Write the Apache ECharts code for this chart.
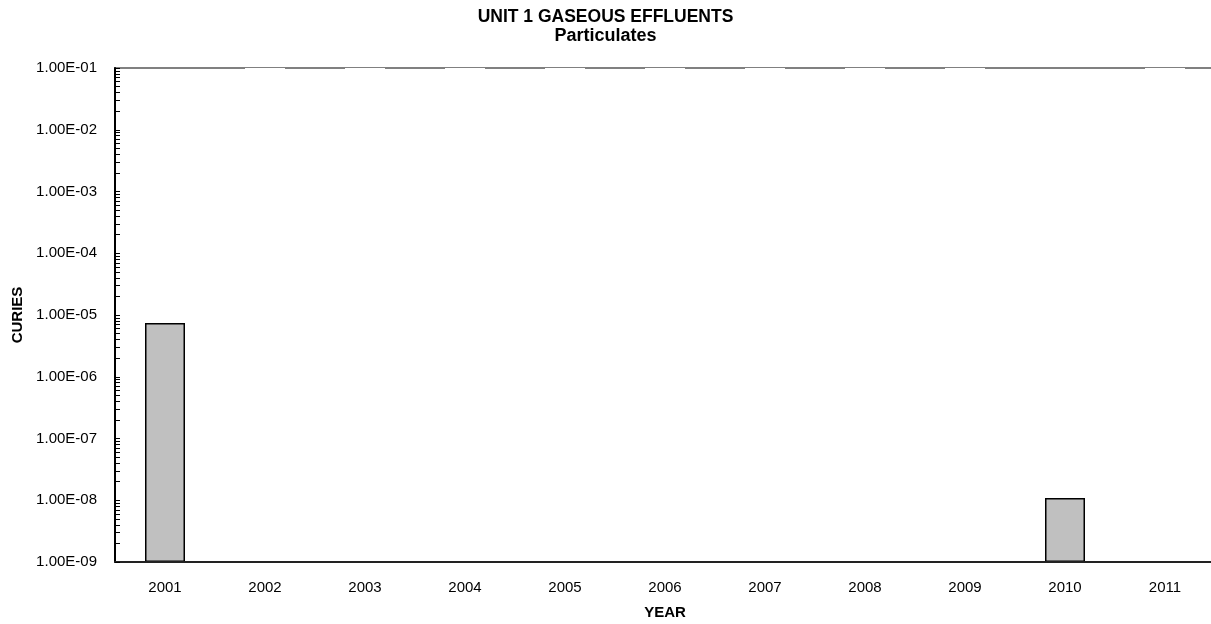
<!DOCTYPE html>
<html>
<head>
<meta charset="utf-8">
<title>Unit 1 Gaseous Effluents - Particulates</title>
<script src="https://cdn.jsdelivr.net/npm/echarts@6/dist/echarts.min.js"></script>
<style>
  html, body { margin: 0; padding: 0; background: #fff; }
  #chart { width: 1211px; height: 624px; }
</style>
</head>
<body>
<div id="chart"></div>
<script>
// values
var years = ['2001', '2002', '2003', '2004', '2005', '2006', '2007', '2008', '2009', '2010', '2011']
var curies = [7.4e-6, 0, 0, 0, 0, 0, 0, 0, 0, 1.09e-8, 0]

// y axis range and tick labels
var yMin = 1e-9
var yMax = 1e-1
var decades = [1e-9, 1e-8, 1e-7, 1e-6, 1e-5, 1e-4, 1e-3, 1e-2, 1e-1]
var mantissas = [1, 2, 3, 4, 5, 6, 7, 8, 9]

var tickValues = []
decades.forEach(function(d) {
  mantissas.forEach(function(m) {
    var v = Number((m * d).toPrecision(3))
    if (v <= yMax) tickValues.push(v)
  })
})

function sciLabel(v) {
  // 1.00E-05 style
  var s = Number(v).toExponential(2).toUpperCase()
  return s.replace(/E([+-])(\d)$/, 'E$10$2')
}

var font = 'Liberation Sans, Arial, sans-serif'

var chart = echarts.init(document.getElementById('chart'))

var option = {
  animation: false,
  backgroundColor: '#fff',
  title: [
    {
      text: 'UNIT 1 GASEOUS EFFLUENTS',
      left: 'center',
      top: 8,
      padding: 0,
      textStyle: { fontFamily: font, fontSize: 17.5, fontWeight: 'bold', color: '#000', lineHeight: 18 }
    },
    {
      text: 'Particulates',
      left: 'center',
      top: 27,
      padding: 0,
      textStyle: { fontFamily: font, fontSize: 18, fontWeight: 'bold', color: '#000', lineHeight: 19 }
    }
  ],
  grid: {
    left: 115,
    top: 68,
    width: 1100,
    height: 494,
    containLabel: false,
    outerBoundsMode: 'none'
  },
  xAxis: [
    {
      type: 'category',
      data: years,
      z: 5,
      name: 'YEAR',
      nameLocation: 'middle',
      nameGap: 43,
      nameTextStyle: { fontFamily: font, fontSize: 15, fontWeight: 'bold', color: '#000' },
      axisLine: { lineStyle: { color: '#222', width: 2 } },
      axisTick: { show: false },
      axisLabel: { fontFamily: font, fontSize: 15, color: '#000', margin: 18 },
      splitLine: { show: false }
    },
    {
      // top frame line of the plot area
      type: 'category',
      data: years,
      position: 'top',
      z: 0,
      axisLine: { lineStyle: { color: '#808080', width: 2 } },
      axisTick: { show: false },
      axisLabel: { show: false },
      splitLine: { show: false }
    }
  ],
  yAxis: {
    type: 'log',
    logBase: 10,
    min: yMin,
    max: yMax,
    startValue: yMin,
    z: 5,
    name: 'CURIES',
    nameLocation: 'middle',
    nameGap: 90,
    nameTextStyle: { fontFamily: font, fontSize: 15, fontWeight: 'bold', color: '#000' },
    axisLine: { show: true, lineStyle: { color: '#000', width: 2 } },
    axisTick: {
      show: true,
      inside: true,
      length: 5,
      customValues: tickValues,
      lineStyle: { color: '#000', width: 1 }
    },
    axisLabel: {
      fontFamily: font,
      fontSize: 15,
      color: '#000',
      margin: 18,
      customValues: decades,
      formatter: sciLabel
    },
    splitLine: { show: false }
  },
  series: [
    {
      name: 'Curies',
      type: 'bar',
      barWidth: 40,
      barGap: '-100%',
      z: 3,
      data: curies.map(function(v) { return v > 0 ? v : '-' }),
      itemStyle: { color: '#c0c0c0', borderColor: '#000', borderWidth: 1.5 }
    },
    {
      // zero-value years: Excel leaves a break in the top frame here
      name: 'zero',
      type: 'bar',
      barWidth: 40,
      barGap: '-100%',
      z: 2,
      silent: true,
      data: curies.map(function(v) { return v > 0 ? '-' : yMax }),
      itemStyle: { color: '#fff', borderColor: '#fff', borderWidth: 4 }
    }
  ]
}

chart.setOption(option)
</script>
</body>
</html>
